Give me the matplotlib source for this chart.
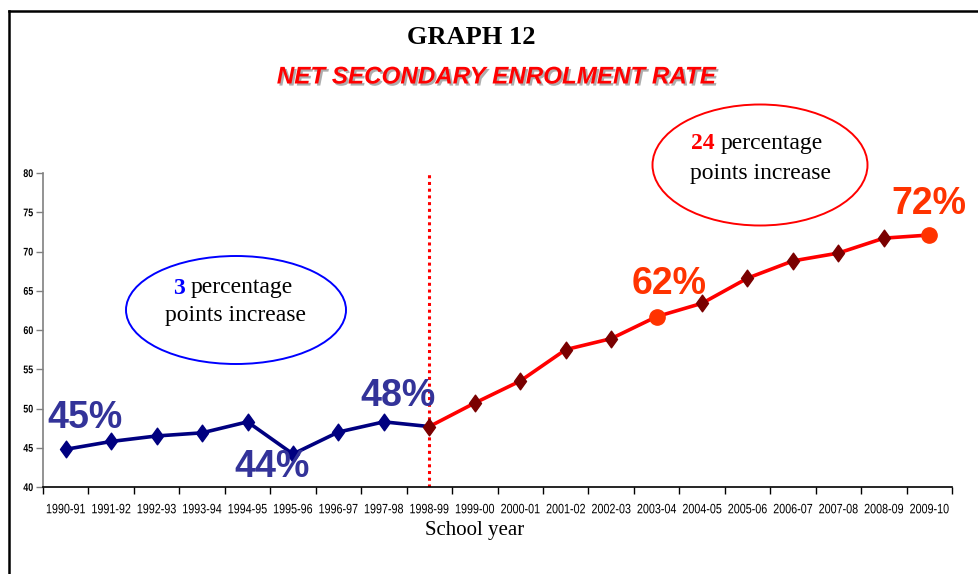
import matplotlib
matplotlib.use("Agg")
import matplotlib.pyplot as plt
from matplotlib.patches import Ellipse
from matplotlib.lines import Line2D
from matplotlib.path import Path
from matplotlib.transforms import Affine2D
import matplotlib.patheffects as pe

years = ["1990-91", "1991-92", "1992-93", "1993-94", "1994-95", "1995-96", "1996-97",
         "1997-98", "1998-99", "1999-00", "2000-01", "2001-02", "2002-03", "2003-04",
         "2004-05", "2005-06", "2006-07", "2007-08", "2008-09", "2009-10"]
rates = [44.8, 45.8, 46.5, 46.9, 48.3, 44.2, 47.0, 48.3, 47.7, 50.7, 53.5, 57.5, 58.9,
         61.7, 63.4, 66.6, 68.8, 69.8, 71.7, 72.1]
split_year = "1998-99"
highlight_years = ["2003-04", "2009-10"]
labels_blue = {"1990-91": "45%", "1995-96": "44%", "1998-99": "48%"}
labels_red = {"2003-04": "62%", "2009-10": "72%"}
yticks = [40, 45, 50, 55, 60, 65, 70, 75, 80]

serif = "Liberation Serif"
sans = "Liberation Sans"


class Squeeze(pe.AbstractPathEffect):
    """Horizontally condense text around an anchor x (emulates a narrow font)."""
    def __init__(self, cx, sx):
        super().__init__()
        self.cx = cx
        self.sx = sx

    def draw_path(self, renderer, gc, tpath, affine, rgbFace=None):
        t = affine + Affine2D().translate(-self.cx, 0).scale(self.sx, 1).translate(self.cx, 0)
        renderer.draw_path(gc, tpath, t, rgbFace)


W, H = 979, 574
fig = plt.figure(figsize=(W / 100, H / 100), dpi=100)
ax = fig.add_axes([43 / W, (H - 487) / H, (952 - 43) / W, (487 - 173) / H])

x = list(range(len(years)))
si = years.index(split_year)

diamond = Path([(0, 1), (0.72, 0), (0, -1), (-0.72, 0), (0, 1)],
               [Path.MOVETO, Path.LINETO, Path.LINETO, Path.LINETO, Path.CLOSEPOLY])

ax.plot(x[:si + 1], rates[:si + 1], color="#000080", lw=2.6, zorder=3)
ax.plot(x[si:], rates[si:], color="#ff0000", lw=2.6, zorder=3)
hl = [years.index(y) for y in highlight_years]
bx = [i for i in x[:si]]
ax.plot(bx, [rates[i] for i in bx], ls="none", marker=diamond, ms=12, color="#000080", zorder=4)
rx = [i for i in x[si:] if i not in hl]
ax.plot(rx, [rates[i] for i in rx], ls="none", marker=diamond, ms=12, color="#7a0000", zorder=4)
ax.plot(hl, [rates[i] for i in hl], ls="none", marker="o", ms=11, color="#ff3300", zorder=5)

ax.axvline(si, color="#ff0000", lw=2.2, ls=(0, (1, 1.2)), zorder=2)

ax.set_xlim(-0.5, len(years) - 0.5)
ax.set_ylim(40, 80)
ax.set_yticks(yticks)
ax.set_yticklabels([str(v) for v in yticks], fontfamily=sans, fontweight="bold", fontsize=8)
ax.set_xticks(x)
ax.set_xticklabels(years, fontfamily=sans, fontsize=9.8)
ax.set_xticks([i - 0.5 for i in range(len(years) + 1)], minor=True)
ax.tick_params(axis="x", which="major", length=0, pad=11)
ax.tick_params(axis="x", which="minor", length=5, width=1, direction="out")
ax.tick_params(axis="y", length=5, width=1, direction="out", pad=2, color="#808080")
for s in ["top", "right"]:
    ax.spines[s].set_visible(False)
ax.spines["left"].set_color("#808080")
ax.spines["left"].set_linewidth(1.2)
ax.spines["bottom"].set_linewidth(1.2)

fig.canvas.draw()
for i, lab in zip(x, ax.get_xticklabels()):
    cx = ax.transData.transform((i, 40))[0]
    lab.set_path_effects([Squeeze(cx, 0.79)])
for lab in ax.get_yticklabels():
    bb = lab.get_window_extent()
    lab.set_path_effects([Squeeze(bb.x1, 0.8)])


def px(xp, yp):
    return (xp / W, 1 - yp / H)


fig.text(*px(475, 531), "School year", ha="center", va="center", fontfamily=serif, fontsize=15)

offs_b = {"1990-91": (19, 31), "1995-96": (-21, -13), "1998-99": (-31, 31)}
for yname, txt in labels_blue.items():
    i = years.index(yname)
    ax.annotate(txt, (i, rates[i]), xytext=offs_b[yname], textcoords="offset pixels",
                ha="center", va="center", fontfamily=sans, fontweight="bold",
                fontsize=27, color="#333399", zorder=6)
offs_r = {"2003-04": (13, 33), "2009-10": (0, 31)}
for yname, txt in labels_red.items():
    i = years.index(yname)
    ax.annotate(txt, (i, rates[i]), xytext=offs_r[yname], textcoords="offset pixels",
                ha="center", va="center", fontfamily=sans, fontweight="bold",
                fontsize=27, color="#ff3300", zorder=6)

e1 = Ellipse(px(236, 310), 220 / W, 108 / H, transform=fig.transFigure,
             fill=False, edgecolor="#0000ff", lw=1.4)
e2 = Ellipse(px(760, 165), 215 / W, 121 / H, transform=fig.transFigure,
             fill=False, edgecolor="#ff0000", lw=1.4)
fig.add_artist(e1)
fig.add_artist(e2)

FS = 17


def ell_text(cx, y1, y2, num, numcolor):
    t = fig.text(*px(cx, y1), f"{num}  percentage", ha="center", va="center",
                 fontfamily=serif, fontsize=FS, color="white")
    fig.canvas.draw()
    bb = t.get_window_extent()
    t.set_visible(False)
    tn = fig.text(bb.x0 / W, 1 - y1 / H, num, ha="left", va="center", fontfamily=serif,
                  fontsize=FS, fontweight="bold", color=numcolor)
    fig.canvas.draw()
    bn = tn.get_window_extent()
    fig.text(bn.x1 / W + 6 / W, 1 - y1 / H, "percentage", ha="left", va="center",
             fontfamily=serif, fontsize=FS, color="black")
    fig.text(*px(cx, y2), "points increase", ha="center", va="center",
             fontfamily=serif, fontsize=FS, color="black")


ell_text(236, 288, 315, "3", "#0000ff")
ell_text(760, 143, 174, "24", "#ff0000")

fig.text(*px(471, 38), "GRAPH 12", ha="center", va="center", fontfamily=serif,
         fontweight="bold", fontsize=19)
fig.text(*px(496, 77), "NET SECONDARY ENROLMENT RATE", ha="center", va="center",
         fontfamily=sans, fontweight="bold", fontstyle="italic", fontsize=17.4,
         color="#ff0000",
         path_effects=[pe.SimplePatchShadow(offset=(1.5, -1.5), shadow_rgbFace="#999999", alpha=0.8),
                       pe.Normal()])

fig.add_artist(Line2D([9 / W, 9 / W], [0, 1 - 11 / H], transform=fig.transFigure,
                      color="black", lw=1.8))
fig.add_artist(Line2D([9 / W, 1], [1 - 11 / H, 1 - 11 / H], transform=fig.transFigure,
                      color="black", lw=1.8))

fig.savefig("out.png", dpi=100)
